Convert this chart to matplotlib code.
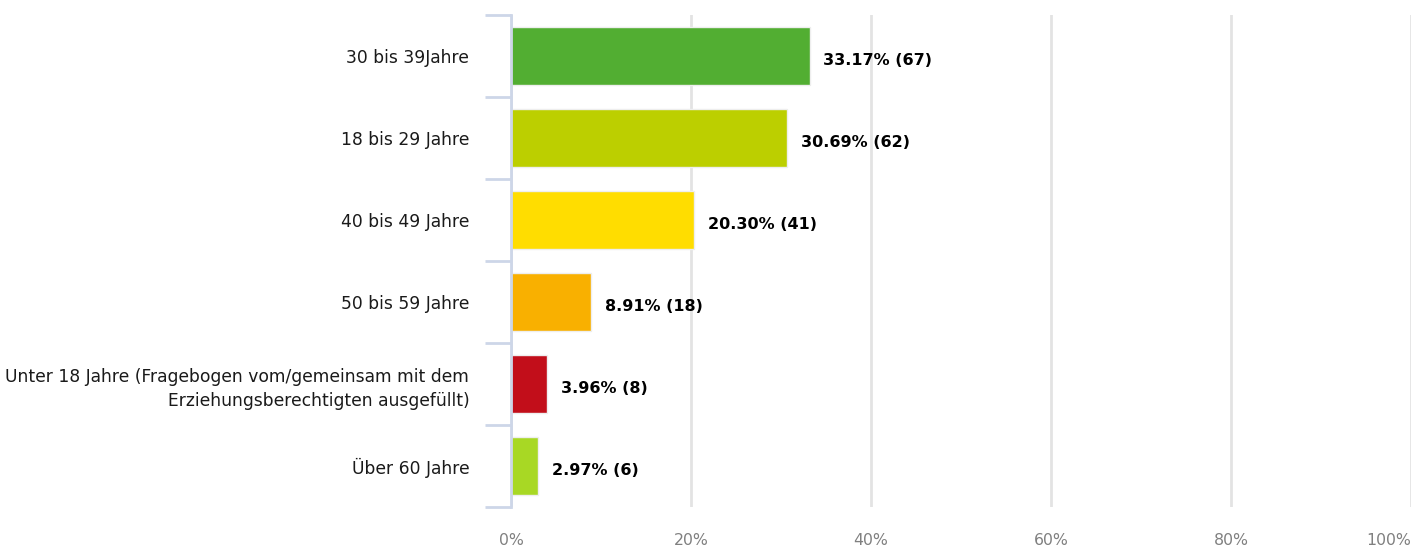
import matplotlib.pyplot as plt
import numpy as np
from matplotlib.ticker import FixedLocator, PercentFormatter

# Altersgruppen, sortiert nach Anteil
categories = [
    '30 bis 39Jahre',
    '18 bis 29 Jahre',
    '40 bis 49 Jahre',
    '50 bis 59 Jahre',
    'Unter 18 Jahre (Fragebogen vom/gemeinsam mit dem\nErziehungsberechtigten ausgefüllt)',
    'Über 60 Jahre',
]
percent = [33.17, 30.69, 20.30, 8.91, 3.96, 2.97]
counts = [67, 62, 41, 18, 8, 6]
colors = ['#52ae32', '#bccf00', '#ffdd00', '#f9b000', '#c20e1a', '#a8d824']
x_ticks = [0, 20, 40, 60, 80, 100]

axis_color = '#cdd6e8'

fig = plt.figure(figsize=(14.14, 5.52), dpi=100)
ax = fig.add_axes([511 / 1414, 1 - 507 / 552, 900 / 1414, 492 / 552])

y = np.arange(len(categories))
ax.barh(y, percent, height=0.71, color=colors, edgecolor='#eeeeee', linewidth=1, zorder=3)

for yi, p, n in zip(y, percent, counts):
    ax.annotate(f'{p:.2f}% ({n})', xy=(p, yi), xytext=(10, -3),
                textcoords='offset points', va='center', ha='left',
                fontsize=11.5, fontweight='bold', color='black')

ax.set_xlim(0, 100)
ax.set_ylim(len(categories) - 0.5, -0.5)

# vertical grid lines
ax.set_xticks(x_ticks)
ax.xaxis.set_major_formatter(PercentFormatter(decimals=0))
ax.grid(axis='x', color='#e3e3e3', linewidth=2, zorder=0)
ax.tick_params(axis='x', length=0, pad=19, labelsize=11.3, labelcolor='#808080')
ax.get_xticklabels()[-1].set_horizontalalignment('right')

# category labels in the middle, short ticks at the band edges
ax.set_yticks(y)
ax.set_yticklabels(categories)
ax.yaxis.set_minor_locator(FixedLocator(np.arange(-0.5, len(categories), 1.0)))
ax.tick_params(axis='y', which='major', length=0, pad=30, labelsize=12.3, labelcolor='#1a1a1a')
ax.tick_params(axis='y', which='minor', length=19, width=2, color=axis_color)
for lbl in ax.get_yticklabels():
    lbl.set_linespacing(1.45)

for side in ['top', 'right', 'bottom']:
    ax.spines[side].set_visible(False)
ax.spines['left'].set_color(axis_color)
ax.spines['left'].set_linewidth(2)
ax.spines['left'].set_zorder(4)

fig.savefig('out.png', dpi=100)
